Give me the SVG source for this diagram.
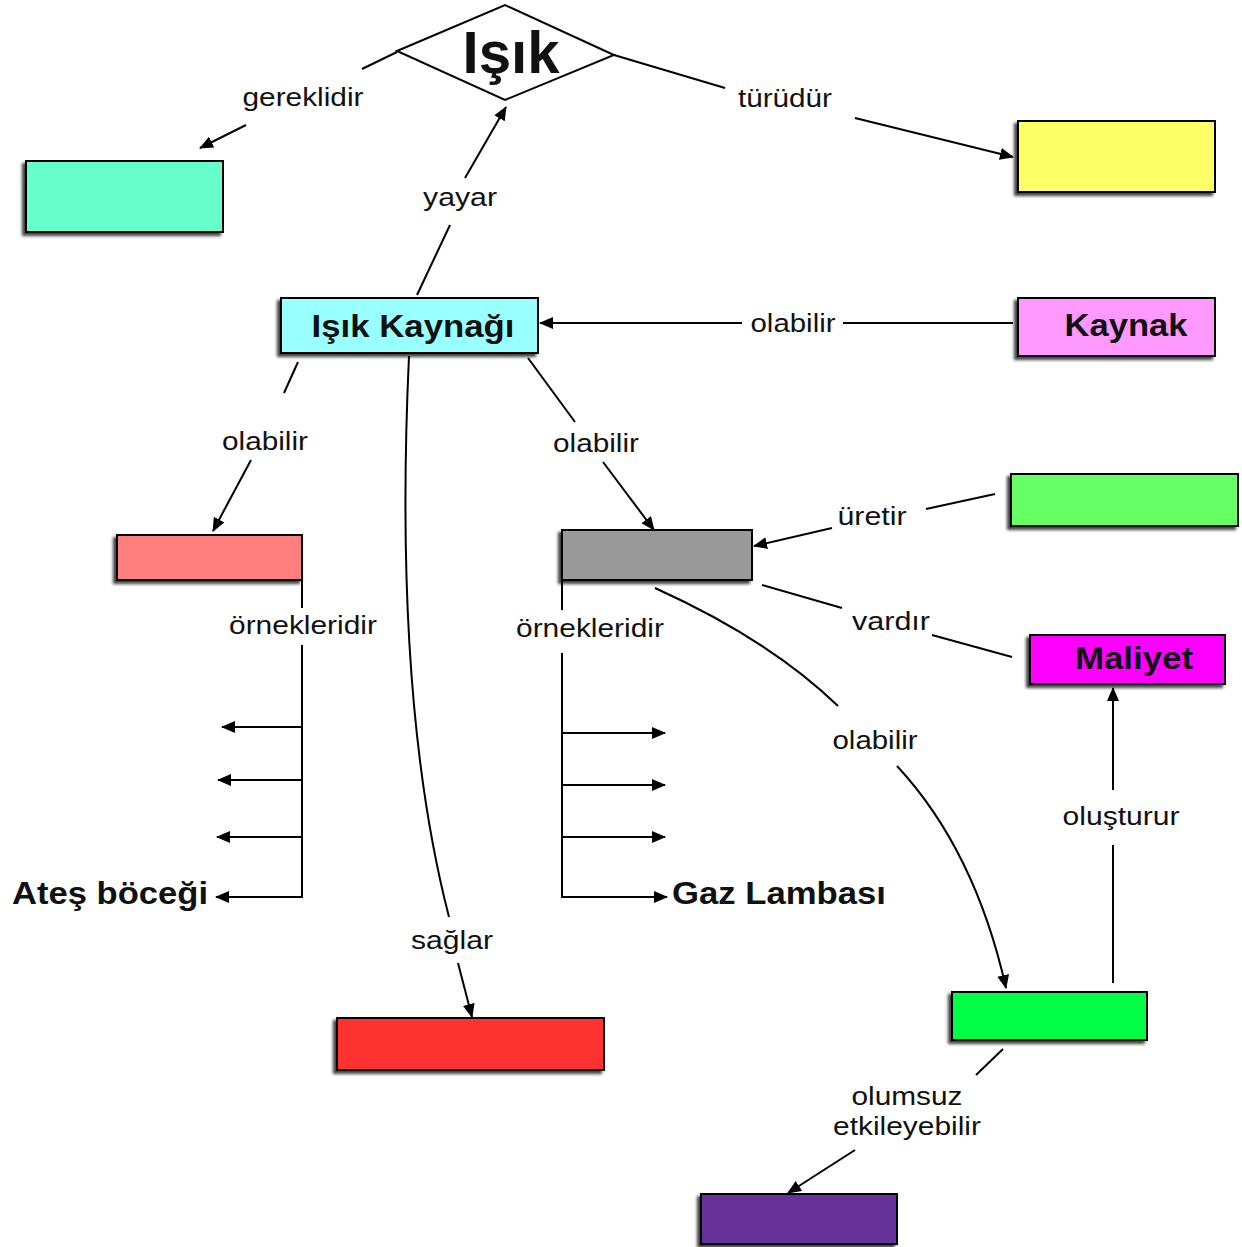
<svg xmlns="http://www.w3.org/2000/svg" width="1242" height="1247" viewBox="0 0 1242 1247">
<defs>
<marker id="ah" markerWidth="14" markerHeight="12" refX="13" refY="6" orient="auto" markerUnits="userSpaceOnUse"><path d="M0,0 L14,6 L0,12 Z" fill="#000"/></marker>
<filter id="sh" x="-10%" y="-20%" width="120%" height="150%"><feDropShadow dx="-3" dy="3" stdDeviation="1.5" flood-color="#222" flood-opacity="0.85"/></filter>
</defs>
<style>
.box{stroke:#000;stroke-width:2;filter:url(#sh)}
.ln{fill:none;stroke:#000;stroke-width:2}
.lab{font-family:"Liberation Sans",Arial,sans-serif;font-size:25px;fill:#111;text-anchor:middle}
.bt{font-family:"Liberation Sans",Arial,sans-serif;font-weight:bold;font-size:31px;fill:#111}
.title{font-size:60px}
</style>
<rect width="1242" height="1247" fill="#fff"/>

<g id="n-isik"><polygon points="397,51 505,5 614,55 505,100" fill="#fff" stroke="#000" stroke-width="2"/><text class="bt title" x="511" y="73" text-anchor="middle" textLength="97" lengthAdjust="spacingAndGlyphs">Işık</text></g>
<g id="n-gerek"><rect class="box" x="26" y="161" width="197" height="71" fill="#66ffcc"/></g>
<g id="n-tur"><rect class="box" x="1018" y="121" width="197" height="71" fill="#ffff66"/></g>
<g id="n-kaynagi"><rect class="box" x="281" y="298" width="257" height="55" fill="#99ffff"/><text class="bt" x="413" y="337" text-anchor="middle" textLength="203" lengthAdjust="spacingAndGlyphs">Işık Kaynağı</text></g>
<g id="n-kaynak"><rect class="box" x="1018" y="298" width="197" height="58" fill="#ff99ff"/><text class="bt" x="1126" y="336" text-anchor="middle" textLength="123" lengthAdjust="spacingAndGlyphs">Kaynak</text></g>
<g id="n-uretir"><rect class="box" x="1011" y="474" width="227" height="52" fill="#66ff66"/></g>
<g id="n-pink"><rect class="box" x="117" y="535" width="185" height="45" fill="#ff7f7f"/></g>
<g id="n-gray"><rect class="box" x="562" y="530" width="190" height="50" fill="#999999"/></g>
<g id="n-maliyet"><rect class="box" x="1030" y="635" width="195" height="49" fill="#ff00ff"/><text class="bt" x="1134" y="669" text-anchor="middle" textLength="118" lengthAdjust="spacingAndGlyphs">Maliyet</text></g>
<g id="n-green"><rect class="box" x="952" y="992" width="195" height="48" fill="#00ff44"/></g>
<g id="n-red"><rect class="box" x="337" y="1018" width="267" height="52" fill="#ff3333"/></g>
<g id="n-purple"><rect class="box" x="701" y="1194" width="196" height="50" fill="#663399"/></g>
<g id="n-ates"><text class="bt" x="12" y="904" textLength="196" lengthAdjust="spacingAndGlyphs">Ateş böceği</text></g>
<g id="n-gaz"><text class="bt" x="672" y="904" textLength="214" lengthAdjust="spacingAndGlyphs">Gaz Lambası</text></g>

<g id="connectors">
<path class="ln" d="M397,52 L362,69"/><path class="ln" d="M246,125 L200,148" marker-end="url(#ah)"/>
<path class="ln" d="M614,55 L725,88"/><path class="ln" d="M855,118 L1013,157" marker-end="url(#ah)"/>
<path class="ln" d="M417,295 L450,225"/><path class="ln" d="M465,178 L506,107" marker-end="url(#ah)"/>
<path class="ln" d="M1013,323 L843,323"/><path class="ln" d="M742,323 L540,323" marker-end="url(#ah)"/>
<path class="ln" d="M298,362 L284,393"/><path class="ln" d="M251,460 L213,531" marker-end="url(#ah)"/>
<path class="ln" d="M528,358 L575,422"/><path class="ln" d="M603,462 L654,530" marker-end="url(#ah)"/>
<path class="ln" d="M995,494 L926,509"/><path class="ln" d="M832,528 L754,546" marker-end="url(#ah)"/>
<path class="ln" d="M762,585 L842,608"/><path class="ln" d="M932,635 L1012,657"/>
<path class="ln" d="M1113,983 L1113,845"/><path class="ln" d="M1113,790 L1113,688" marker-end="url(#ah)"/>
<path class="ln" d="M1003,1049 L976,1075"/><path class="ln" d="M855,1150 L788,1193" marker-end="url(#ah)"/>
<path class="ln" d="M409,356 Q393,700 449,917"/><path class="ln" d="M458,963 L472,1017" marker-end="url(#ah)"/>
<path class="ln" d="M655,588 Q770,640 838,706"/><path class="ln" d="M897,766 Q975,850 1006,988" marker-end="url(#ah)"/>
<path class="ln" d="M302,580 L302,608"/><path class="ln" d="M302,645 L302,897"/>
<path class="ln" d="M302,727 L222,727" marker-end="url(#ah)"/>
<path class="ln" d="M302,780 L218,780" marker-end="url(#ah)"/>
<path class="ln" d="M302,837 L217,837" marker-end="url(#ah)"/>
<path class="ln" d="M303,897 L216,897" marker-end="url(#ah)"/>
<path class="ln" d="M562,580 L562,610"/><path class="ln" d="M562,653 L562,897"/>
<path class="ln" d="M561,733 L665,733" marker-end="url(#ah)"/>
<path class="ln" d="M561,785 L665,785" marker-end="url(#ah)"/>
<path class="ln" d="M561,837 L665,837" marker-end="url(#ah)"/>
<path class="ln" d="M561,897 L667,897" marker-end="url(#ah)"/>
<text class="lab" x="303" y="106" textLength="121" lengthAdjust="spacingAndGlyphs">gereklidir</text>
<text class="lab" x="785" y="107" textLength="94" lengthAdjust="spacingAndGlyphs">türüdür</text>
<text class="lab" x="460" y="206" textLength="74" lengthAdjust="spacingAndGlyphs">yayar</text>
<text class="lab" x="793" y="332" textLength="85" lengthAdjust="spacingAndGlyphs">olabilir</text>
<text class="lab" x="265" y="450" textLength="86" lengthAdjust="spacingAndGlyphs">olabilir</text>
<text class="lab" x="596" y="452" textLength="86" lengthAdjust="spacingAndGlyphs">olabilir</text>
<text class="lab" x="303" y="634" textLength="148" lengthAdjust="spacingAndGlyphs">örnekleridir</text>
<text class="lab" x="590" y="637" textLength="148" lengthAdjust="spacingAndGlyphs">örnekleridir</text>
<text class="lab" x="872" y="525" textLength="69" lengthAdjust="spacingAndGlyphs">üretir</text>
<text class="lab" x="891" y="630" textLength="78" lengthAdjust="spacingAndGlyphs">vardır</text>
<text class="lab" x="875" y="749" textLength="85" lengthAdjust="spacingAndGlyphs">olabilir</text>
<text class="lab" x="452" y="949" textLength="82" lengthAdjust="spacingAndGlyphs">sağlar</text>
<text class="lab" x="1121" y="825" textLength="117" lengthAdjust="spacingAndGlyphs">oluşturur</text>
<text class="lab" x="907" y="1105" textLength="111" lengthAdjust="spacingAndGlyphs">olumsuz</text>
<text class="lab" x="907" y="1135" textLength="148" lengthAdjust="spacingAndGlyphs">etkileyebilir</text>
</g>
</svg>
